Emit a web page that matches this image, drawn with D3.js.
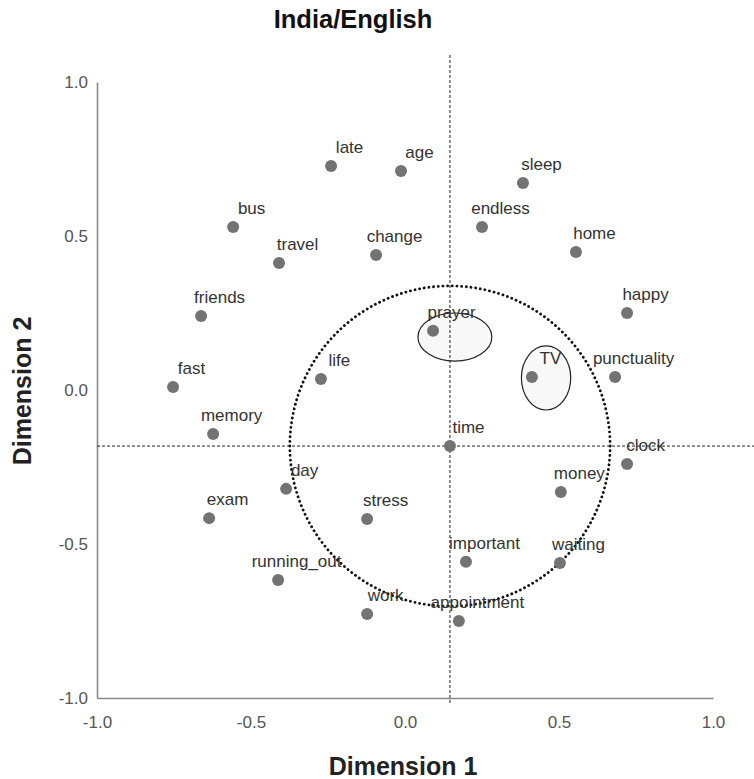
<!DOCTYPE html>
<html>
<head>
<meta charset="utf-8">
<script src="https://cdn.jsdelivr.net/npm/d3@7"></script>
<style>
  body { margin: 0; background: #fff; }
  svg { display: block; font-family: "Liberation Sans", Arial, sans-serif; }
</style>
</head>
<body>
<svg id="chart" width="754" height="779"></svg>
<script>
// terms and their coordinates on the two dimensions
const terms = ["late", "age", "bus", "travel", "change", "friends", "fast", "memory", "life",
  "sleep", "endless", "home", "happy", "prayer", "TV", "punctuality", "time", "clock", "money",
  "day", "exam", "stress", "running_out", "work", "important", "waiting", "appointment"];
const dim1 = [-0.240, -0.013, -0.558, -0.409, -0.094, -0.662, -0.753, -0.623, -0.273,
  0.383, 0.250, 0.555, 0.721, 0.091, 0.412, 0.682, 0.146, 0.721, 0.506,
  -0.386, -0.636, -0.123, -0.412, -0.123, 0.198, 0.503, 0.175];
const dim2 = [0.727, 0.711, 0.529, 0.412, 0.438, 0.240, 0.010, -0.143, 0.036,
  0.672, 0.529, 0.448, 0.250, 0.192, 0.042, 0.042, -0.182, -0.240, -0.331,
  -0.321, -0.416, -0.419, -0.617, -0.727, -0.558, -0.562, -0.750];

const tickValues = [-1.0, -0.5, 0.0, 0.5, 1.0];

// hand-drawn highlights (data units)
const circleRadius = 0.52;          // dotted circle around "time"
const ellipses = [
  { cx: 0.162, cy: 0.172, rx: 0.120, ry: 0.078 },   // prayer
  { cx: 0.458, cy: 0.039, rx: 0.080, ry: 0.104 }    // TV
];

const svg = d3.select("#chart");
const x = d3.scaleLinear().domain([-1, 1]).range([97, 713]);
const y = d3.scaleLinear().domain([-1, 1]).range([698, 82]);

const points = terms.map((t, i) => ({ name: t, d1: dim1[i], d2: dim2[i] }));
const centre = points.find(p => p.name === "time");

// plain hyphen instead of d3's unicode minus
const fmt = d => d.toFixed(1);

// title
svg.append("text")
    .attr("x", 353).attr("y", 28)
    .attr("text-anchor", "middle")
    .attr("font-size", 25.5).attr("font-weight", "bold")
    .attr("fill", "#111")
    .text("India/English");

// axes (lines only, no ticks)
const xAxis = svg.append("g")
    .attr("transform", `translate(0,${y(-1)})`)
    .call(d3.axisBottom(x).tickValues(tickValues).tickSize(0).tickPadding(15).tickFormat(fmt));
const yAxis = svg.append("g")
    .attr("transform", `translate(${x(-1)},0)`)
    .call(d3.axisLeft(y).tickValues(tickValues).tickSize(0).tickPadding(9).tickFormat(fmt));
[xAxis, yAxis].forEach(g => {
    g.select(".domain").attr("stroke", "#8a8a8a").attr("stroke-width", 1.6);
    g.selectAll("text").attr("font-size", 17).attr("fill", "#555")
        .attr("font-family", "'Liberation Sans', Arial, sans-serif");
});
xAxis.selectAll("text").attr("dy", "0.9em");

// axis titles
svg.append("text")
    .attr("x", 403).attr("y", 775)
    .attr("text-anchor", "middle")
    .attr("font-size", 25).attr("font-weight", "bold")
    .attr("fill", "#222")
    .text("Dimension 1");
svg.append("text")
    .attr("transform", "translate(31,391) rotate(-90)")
    .attr("text-anchor", "middle")
    .attr("font-size", 25).attr("font-weight", "bold")
    .attr("fill", "#222")
    .text("Dimension 2");

// small ellipses
svg.selectAll(".hl")
    .data(ellipses)
    .join("ellipse")
    .attr("class", "hl")
    .attr("cx", d => x(d.cx))
    .attr("cy", d => y(d.cy))
    .attr("rx", d => x(d.rx) - x(0))
    .attr("ry", d => y(0) - y(d.ry))
    .attr("fill", "#f8f8f8")
    .attr("stroke", "#222")
    .attr("stroke-width", 1.2);

// dashed reference lines through "time"
svg.append("line")
    .attr("x1", x(centre.d1)).attr("x2", x(centre.d1))
    .attr("y1", 55).attr("y2", y(-1) + 5)
    .attr("stroke", "#222").attr("stroke-width", 1)
    .attr("stroke-dasharray", "3,2");
svg.append("line")
    .attr("x1", x(-1)).attr("x2", 754)
    .attr("y1", y(centre.d2)).attr("y2", y(centre.d2))
    .attr("stroke", "#222").attr("stroke-width", 1)
    .attr("stroke-dasharray", "3,2");

// dotted circle
svg.append("circle")
    .attr("cx", x(centre.d1))
    .attr("cy", y(centre.d2))
    .attr("r", x(circleRadius) - x(0))
    .attr("fill", "none")
    .attr("stroke", "#111")
    .attr("stroke-width", 2.8)
    .attr("stroke-linecap", "round")
    .attr("stroke-dasharray", "0.1,4.6");

// points
const nodes = svg.selectAll(".pt")
    .data(points)
    .join("g")
    .attr("class", "pt")
    .attr("transform", d => `translate(${x(d.d1)},${y(d.d2)})`);

nodes.append("circle")
    .attr("r", 6)
    .attr("fill", "#737373");

nodes.append("text")
    .attr("x", 18.5)
    .attr("y", -13)
    .attr("text-anchor", "middle")
    .attr("font-size", 17)
    .attr("fill", "#333")
    .text(d => d.name);
</script>
</body>
</html>
